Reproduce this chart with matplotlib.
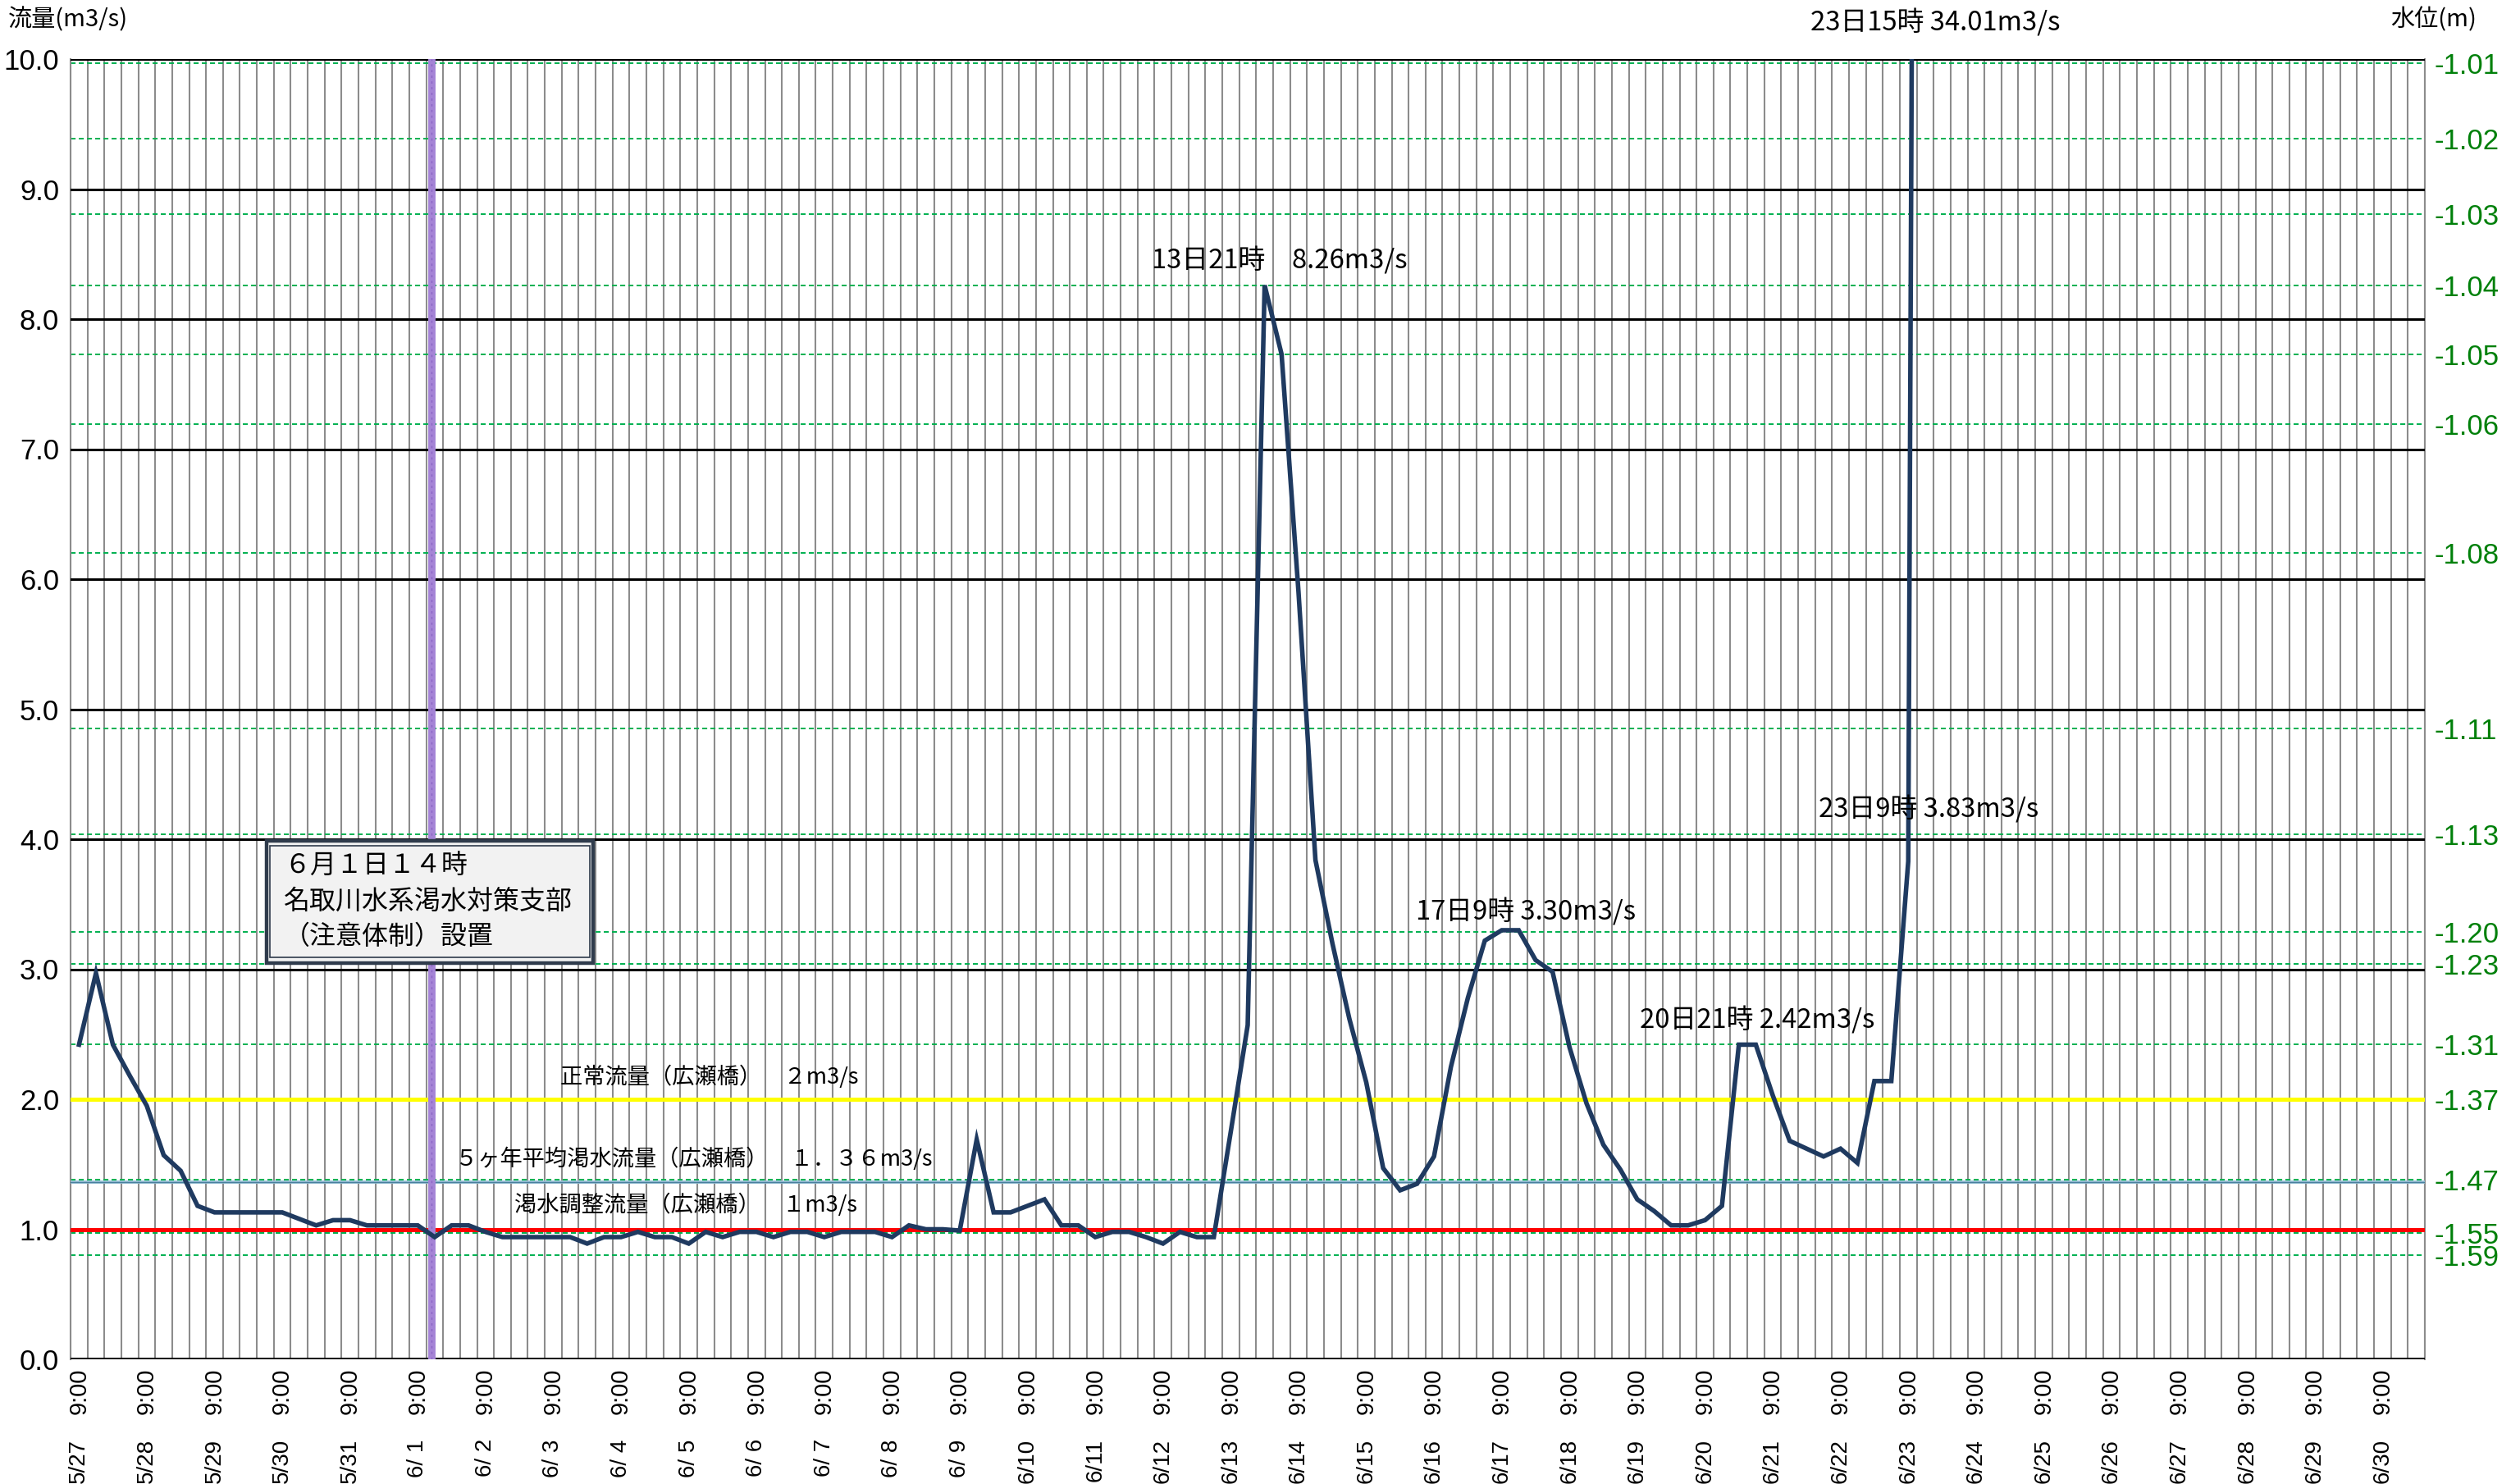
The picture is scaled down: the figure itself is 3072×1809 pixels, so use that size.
#!/usr/bin/env python3
"""
Flow at Hirose bridge (Natori river), 5/27 - 6/30, 6-hourly values,
with the drought reference flows and the water-level scale on the right.
Writes out.png (3072x1809).
"""

import matplotlib

matplotlib.use("Agg")  # headless
import matplotlib.pyplot as plt  # noqa: E402
from matplotlib import font_manager  # noqa: E402
from matplotlib.patches import Rectangle  # noqa: E402

# --------------------------------------------------------------------------- #
# Data
# --------------------------------------------------------------------------- #
# flow (m3/s), one value every 6 h starting 5/27 9:00
flow = [
    2.42, 2.97, 2.42, 2.18, 1.95, 1.57, 1.45, 1.18, 1.13, 1.13,
    1.13, 1.13, 1.13, 1.08, 1.03, 1.07, 1.07, 1.03, 1.03, 1.03,
    1.03, 0.94, 1.03, 1.03, 0.98, 0.94, 0.94, 0.94, 0.94, 0.94,
    0.89, 0.94, 0.94, 0.98, 0.94, 0.94, 0.89, 0.98, 0.94, 0.98,
    0.98, 0.94, 0.98, 0.98, 0.94, 0.98, 0.98, 0.98, 0.94, 1.03,
    1.00, 1.00, 0.99, 1.69, 1.13, 1.13, 1.18, 1.23, 1.03, 1.03,
    0.94, 0.98, 0.98, 0.94, 0.89, 0.98, 0.94, 0.94, 1.75, 2.57,
    8.26, 7.73, 5.90, 3.84, 3.20, 2.62, 2.13, 1.47, 1.30, 1.35,
    1.56, 2.25, 2.78, 3.22, 3.30, 3.30, 3.07, 2.98, 2.40, 1.97,
    1.65, 1.46, 1.23, 1.14, 1.03, 1.03, 1.07, 1.18, 2.42, 2.42,
    2.03, 1.68, 1.62, 1.56, 1.62, 1.51, 2.14, 2.14, 3.83, 34.01,
]
n_slots = 139          # category axis runs 5/27 9:00 .. 6/30 21:00
slots_per_day = 4

day_labels = [
    "5/27", "5/28", "5/29", "5/30", "5/31",
    "6/ 1", "6/ 2", "6/ 3", "6/ 4", "6/ 5", "6/ 6", "6/ 7", "6/ 8", "6/ 9",
    "6/10", "6/11", "6/12", "6/13", "6/14", "6/15", "6/16", "6/17", "6/18",
    "6/19", "6/20", "6/21", "6/22", "6/23", "6/24", "6/25", "6/26", "6/27",
    "6/28", "6/29", "6/30",
]
time_label = "9:00"

flow_ticks = [0, 1, 2, 3, 4, 5, 6, 7, 8, 9, 10]

# right-hand water-level scale: label (m) and the flow it sits at
level_labels = ["-1.01", "-1.02", "-1.03", "-1.04", "-1.05", "-1.06", "-1.08",
                "-1.11", "-1.13", "-1.20", "-1.23", "-1.31", "-1.37", "-1.47",
                "-1.55", "-1.59"]
level_flow = [9.97, 9.39, 8.81, 8.26, 7.73, 7.19, 6.20,
              4.85, 4.04, 3.29, 3.04, 2.42, 2.00, 1.38,
              0.97, 0.80]

# reference flows at Hirose bridge (m3/s)
normal_flow = 2.0
dry_avg_flow = 1.36
adjust_flow = 1.0

event_slot = 20 + 5 / 6   # 6/1 14:00

# --------------------------------------------------------------------------- #
# Fonts
# --------------------------------------------------------------------------- #
_have = {f.name for f in font_manager.fontManager.ttflist}
NUM = [n for n in ("Liberation Sans Narrow", "Liberation Sans", "DejaVu Sans") if n in _have][0]
JP = ["Noto Sans CJK JP", "DejaVu Sans"]
plt.rcParams["font.family"] = JP
plt.rcParams["lines.scale_dashes"] = False

GRID_GRAY = "#8c8c8c"
DASH_GREEN = "#00b050"
LEVEL_GREEN = "#00800a"
LINE_NAVY = "#1f3a60"

# --------------------------------------------------------------------------- #
# Figure
# --------------------------------------------------------------------------- #
fig = plt.figure(figsize=(15.36, 9.045), dpi=200)
ax = fig.add_axes([86 / 3072, 152 / 1809, 2870 / 3072, 1585 / 1809])
ax.set_xlim(-0.5, n_slots - 0.5)
ax.set_ylim(0, 10)

# vertical grid on category boundaries
for k in range(n_slots + 1):
    ax.axvline(k - 0.5, color=GRID_GRAY, lw=0.75, zorder=1)

# water-level dashed lines
for q in level_flow:
    ax.axhline(q, color=DASH_GREEN, lw=0.7, dashes=(2.2, 1.4), zorder=2)

# black flow grid
for q in flow_ticks:
    ax.axhline(q, color="black", lw=1.4 if q == 0 else 1.1, zorder=3)

# reference flows
ax.axhline(normal_flow, color="#ffff00", lw=1.8, zorder=4)
ax.axhline(dry_avg_flow, color="#9cc3d8", lw=1.4, zorder=4)
ax.axhline(dry_avg_flow, color="#4a7f9e", lw=0.5, zorder=4)
ax.axhline(adjust_flow, color="#ff0000", lw=1.8, zorder=4)

# 6/1 14:00 marker
ax.axvline(event_slot, color="#a584d6", lw=3.2, zorder=5)
ax.axvline(event_slot, color="#8a63c4", lw=0.5, dashes=(1, 1.5), zorder=5)

# flow line
ax.plot(range(len(flow)), flow, color=LINE_NAVY, lw=2.0, zorder=6,
        solid_joinstyle="miter")

# axes dressing
ax.spines["top"].set_visible(False)
ax.spines["bottom"].set_visible(False)
for side in ("left", "right"):
    ax.spines[side].set_color(GRID_GRAY)
    ax.spines[side].set_linewidth(0.75)

ax.set_yticks(flow_ticks)
ax.set_yticklabels([f"{q:.1f}" for q in flow_ticks], fontfamily=NUM, fontsize=12.5)
ax.tick_params(axis="y", length=0, pad=5)

day_slots = [i * slots_per_day for i in range(len(day_labels))]
ax.xaxis.remove_overlapping_locs = False
ax.set_xticks(day_slots)
ax.set_xticklabels([time_label] * len(day_slots), rotation=90, fontfamily="Liberation Sans",
                   fontsize=10.5, va="top", ha="center")
ax.set_xticks(day_slots, minor=True)
ax.set_xticklabels(day_labels, minor=True, rotation=90, fontfamily="Liberation Sans",
                   fontsize=10, va="top", ha="center")
ax.tick_params(axis="x", which="major", length=0, pad=4)
ax.tick_params(axis="x", which="minor", length=0, pad=35)

ax2 = ax.twinx()
ax2.set_ylim(0, 10)
ax2.set_yticks(level_flow)
ax2.set_yticklabels(level_labels, fontfamily=NUM, fontsize=12.5, color=LEVEL_GREEN)
ax2.tick_params(axis="y", length=0, pad=4)
for s in ax2.spines.values():
    s.set_visible(False)

# axis titles
fig.text(10 / 3072, 1 - 24 / 1809, "流量(m3/s)", fontsize=10.5, va="center", ha="left")
fig.text(3019 / 3072, 1 - 24 / 1809, "水位(m)", fontsize=10.5, va="center", ha="right")

# peak annotations
peaks = [
    ("23日15時 34.01m3/s", 109.6, 10.28),
    ("13日21時　8.26m3/s", 70.9, 8.45),
    ("17日9時 3.30m3/s", 85.4, 3.44),
    ("20日21時 2.42m3/s", 99.1, 2.61),
    ("23日9時 3.83m3/s", 109.2, 4.23),
]
for txt, x, y in peaks:
    ax.text(x, y, txt, fontsize=11.8, ha="center", va="center", zorder=8, clip_on=False)

# reference flow labels
refs = [
    ("正常流量（広瀬橋）　２m3/s", 37.2, 2.17),
    ("５ヶ年平均渇水流量（広瀬橋）　１．３６m3/s", 36.3, 1.54),
    ("渇水調整流量（広瀬橋）　１m3/s", 35.8, 1.19),
]
for txt, x, y in refs:
    ax.text(x, y, txt, fontsize=9.8, ha="center", va="center", zorder=8)

# 6/1 note box
ax.add_patch(Rectangle((11.07, 3.05), 19.27, 0.94, facecolor="#f2f2f2",
                       edgecolor="#2f3b4c", lw=1.6, zorder=7))
ax.add_patch(Rectangle((11.25, 3.09), 18.91, 0.86, facecolor="none",
                       edgecolor="#2f3b4c", lw=0.6, zorder=7))
note = ["６月１日１４時", "名取川水系渇水対策支部", "（注意体制）設置"]
for line, y in zip(note, (3.79, 3.52, 3.25)):
    ax.text(12.1, y, line, fontsize=11.5, ha="left", va="center", zorder=8)

fig.savefig("out.png", dpi=200)
